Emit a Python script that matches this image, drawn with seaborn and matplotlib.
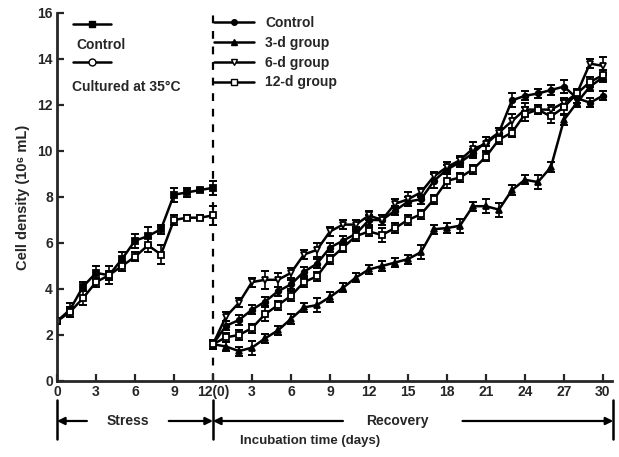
import numpy as np
import pandas as pd
import matplotlib
matplotlib.use("Agg")
import matplotlib.pyplot as plt
import seaborn as sns
from matplotlib.lines import Line2D
import matplotlib.transforms as mtransforms

# ---------------- data ----------------
stress_days = list(range(0, 13))
stress_control = [2.6, 3.1, 4.1, 4.7, 4.6, 5.3, 6.1, 6.3, 6.6, 8.1, 8.2, 8.3, 8.4]
stress_control_sd = [0.1, 0.3, 0.2, 0.3, 0.4, 0.3, 0.3, 0.4, 0.2, 0.3, 0.2, 0.1, 0.3]
stress_35c = [2.6, 3.0, 3.6, 4.3, 4.6, 5.0, 5.4, 5.9, 5.5, 7.0, 7.1, 7.1, 7.2]
stress_35c_sd = [0.1, 0.2, 0.3, 0.2, 0.2, 0.2, 0.2, 0.3, 0.4, 0.2, 0.1, 0.1, 0.4]

recovery_days = list(range(0, 31))
rec_control = [1.6, 2.4, 2.65, 3.1, 3.45, 3.9, 4.2, 4.75, 5.1, 5.8, 6.1, 6.4, 7.0, 7.0, 7.4,
               7.8, 7.9, 8.7, 9.2, 9.5, 9.9, 10.4, 10.8, 12.2, 12.4, 12.5, 12.65, 12.8, 12.3,
               12.1, 12.4]
rec_control_sd = [0.2, 0.2, 0.2, 0.2, 0.2, 0.2, 0.2, 0.2, 0.2, 0.2, 0.2, 0.3, 0.2, 0.2, 0.2,
                  0.2, 0.2, 0.3, 0.2, 0.2, 0.2, 0.2, 0.2, 0.3, 0.2, 0.2, 0.2, 0.3, 0.2,
                  0.2, 0.2]
rec_3d = [1.6, 1.5, 1.3, 1.45, 1.85, 2.2, 2.7, 3.2, 3.3, 3.65, 4.05, 4.5, 4.85, 5.0, 5.15,
          5.3, 5.6, 6.6, 6.65, 6.75, 7.6, 7.6, 7.45, 8.3, 8.75, 8.65, 9.3, 11.35, 12.1,
          12.8, 13.2]
rec_3d_sd = [0.2, 0.2, 0.2, 0.3, 0.2, 0.2, 0.2, 0.2, 0.3, 0.2, 0.2, 0.2, 0.2, 0.2, 0.2,
             0.2, 0.3, 0.2, 0.2, 0.3, 0.2, 0.3, 0.3, 0.2, 0.2, 0.3, 0.2, 0.2, 0.2,
             0.2, 0.2]
rec_6d = [1.6, 2.8, 3.4, 4.3, 4.4, 4.4, 4.7, 5.5, 5.7, 6.5, 6.8, 6.8, 7.2, 7.0, 7.7,
          7.9, 8.2, 8.9, 9.3, 9.6, 10.1, 10.3, 10.8, 11.3, 11.8, 11.8, 11.8, 12.1, 12.5,
          13.8, 13.7]
rec_6d_sd = [0.2, 0.2, 0.2, 0.2, 0.4, 0.3, 0.2, 0.2, 0.3, 0.2, 0.2, 0.2, 0.2, 0.2, 0.2,
             0.3, 0.2, 0.2, 0.2, 0.2, 0.3, 0.3, 0.2, 0.3, 0.3, 0.2, 0.2, 0.2, 0.2,
             0.2, 0.4]
rec_12d = [1.6, 1.9, 2.0, 2.3, 2.9, 3.3, 3.7, 4.3, 4.55, 5.3, 5.8, 6.3, 6.5, 6.35, 6.65,
           7.0, 7.25, 7.9, 8.7, 8.85, 9.2, 9.75, 10.5, 10.8, 11.6, 11.8, 11.5, 11.9, 12.5,
           13.0, 13.3]
rec_12d_sd = [0.2, 0.2, 0.2, 0.2, 0.3, 0.2, 0.2, 0.2, 0.2, 0.2, 0.2, 0.2, 0.2, 0.3, 0.2,
              0.2, 0.2, 0.2, 0.3, 0.2, 0.2, 0.2, 0.2, 0.2, 0.3, 0.2, 0.3, 0.3, 0.2,
              0.2, 0.2]

xtick_pos = list(range(0, 43, 3))
xtick_labels = ['0', '3', '6', '9', '12(0)', '3', '6', '9', '12', '15', '18', '21', '24', '27', '30']
stress_len = 12

# ---------------- style ----------------
sns.set_style('ticks')
plt.rcParams['font.family'] = ['Liberation Sans', 'DejaVu Sans']
plt.rcParams['font.weight'] = 'bold'
plt.rcParams['axes.labelweight'] = 'bold'
FS = 10
LW = 1.8

fig = plt.figure(figsize=(6.19, 4.57), dpi=100)
W, H = 619, 457
ax = fig.add_axes([57 / W, 1 - 381 / H, (612 - 57) / W, (381 - 13) / H])


def draw(x, y, sd, marker, face, ms):
    sns.lineplot(x=x, y=y, ax=ax, color='black', lw=LW, marker=marker, markersize=ms,
                 markerfacecolor=face, markeredgecolor='black', markeredgewidth=1.3,
                 errorbar=None, legend=False)
    ax.errorbar(x, y, yerr=sd, fmt='none', ecolor='black', elinewidth=1.2, capsize=2.8,
                capthick=1.4, zorder=1)


sx = np.array(stress_days)
rx = np.array(recovery_days) + stress_len
draw(sx, stress_control, stress_control_sd, 's', 'black', 5)
draw(sx, stress_35c, stress_35c_sd, 's', 'white', 5)
draw(rx, rec_control, rec_control_sd, 'o', 'black', 4)
draw(rx, rec_3d, rec_3d_sd, '^', 'black', 5)
draw(rx, rec_6d, rec_6d_sd, 'v', 'white', 5)
draw(rx, rec_12d, rec_12d_sd, 's', 'white', 5)

ax.axvline(stress_len, color='black', lw=1.6, ls=(0, (3.5, 3.5)), zorder=0)

ax.set_xlim(0, 42.7)
ax.set_ylim(0, 16)
ax.set_xticks(xtick_pos)
ax.set_xticklabels(xtick_labels, fontsize=FS, fontweight='bold')
ax.set_yticks(range(0, 17, 2))
ax.set_yticklabels([str(v) for v in range(0, 17, 2)], fontsize=FS, fontweight='bold')
ax.tick_params(direction='in', length=5, width=1.6, pad=3)
for s in ['top', 'right']:
    ax.spines[s].set_visible(False)
for s in ['left', 'bottom']:
    ax.spines[s].set_linewidth(2)
ax.set_xlabel('')
ax.set_ylabel('Cell density (10⁶ mL)', fontsize=10.5, fontweight='bold', labelpad=5)

# left legend (handles only, labels under them)
hc = Line2D([], [], color='black', lw=LW, marker='s', ms=5, mfc='black', mec='black')
h35 = Line2D([], [], color='black', lw=LW, marker='o', ms=5, mfc='white', mec='black')
leg1 = ax.legend(handles=[hc, h35], labels=['', ''], loc='upper left',
                 bbox_to_anchor=((73 - 57) / 555, (381 - 18) / 368), frameon=False,
                 borderpad=0, borderaxespad=0, handlelength=2.7, handletextpad=0,
                 labelspacing=1.75, fontsize=FS)
ax.add_artist(leg1)
ax.text((76 - 57) / 555, (381 - 45) / 368, 'Control', transform=ax.transAxes,
        fontsize=FS, fontweight='bold', va='center', ha='left')
ax.text((72 - 57) / 555, (381 - 87) / 368, 'Cultured at 35°C', transform=ax.transAxes,
        fontsize=FS, fontweight='bold', va='center', ha='left')

# right legend
r_handles = [
    Line2D([], [], color='black', lw=LW, marker='o', ms=4, mfc='black', mec='black'),
    Line2D([], [], color='black', lw=LW, marker='^', ms=5, mfc='black', mec='black'),
    Line2D([], [], color='black', lw=LW, marker='v', ms=5, mfc='white', mec='black'),
    Line2D([], [], color='black', lw=LW, marker='s', ms=5, mfc='white', mec='black'),
]
leg2 = ax.legend(handles=r_handles, labels=['Control', '3-d group', '6-d group', '12-d group'],
                 loc='upper left', bbox_to_anchor=((214 - 57) / 555, (381 - 16) / 368),
                 frameon=False, borderpad=0, borderaxespad=0, handlelength=2.9,
                 handletextpad=0.8, labelspacing=0.42, fontsize=FS,
                 prop={'weight': 'bold', 'size': FS})

# bottom annotations (x in data, y in axes fraction)
trans = mtransforms.blended_transform_factory(ax.transData, ax.transAxes)
yb = (381 - 421) / 368
for xv in [0, 12, 42.8]:
    ax.plot([xv, xv], [(381 - 400) / 368, (381 - 439) / 368], transform=trans,
            color='black', lw=1.8, clip_on=False)
ap = dict(arrowstyle='-|>', lw=1.6, color='black', mutation_scale=11, shrinkA=0, shrinkB=0)
for x0, x1 in [(2.3, 0), (8.6, 12), (22.0, 12), (31.2, 42.8)]:
    ax.annotate('', xy=(x1, yb), xytext=(x0, yb), xycoords=trans, textcoords=trans,
                arrowprops=ap, annotation_clip=False)
ax.text(5.45, yb, 'Stress', transform=trans, ha='center', va='center', fontsize=FS,
        fontweight='bold')
ax.text(26.2, yb, 'Recovery', transform=trans, ha='center', va='center', fontsize=FS,
        fontweight='bold')
ax.text((310 - 57) / 13, (381 - 441) / 368, 'Incubation time (days)', transform=trans,
        ha='center', va='center', fontsize=9.5, fontweight='bold')

fig.savefig('out.png', dpi=100)
